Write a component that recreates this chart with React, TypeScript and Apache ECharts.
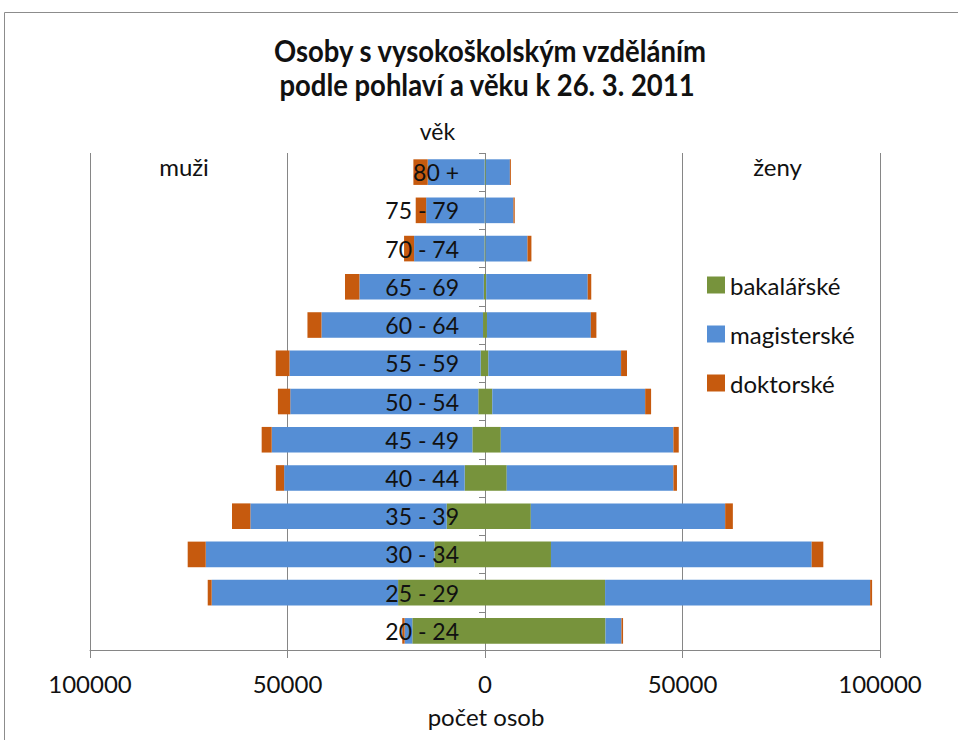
import React, { useEffect, useRef } from "react";
import * as echarts from "echarts";

const categories = ["20 - 24", "25 - 29", "30 - 34", "35 - 39", "40 - 44", "45 - 49", "50 - 54", "55 - 59", "60 - 64", "65 - 69", "70 - 74", "75 - 79", "80 +"];

const menBachelor = [18400, 22000, 12800, 9700, 5150, 3200, 1700, 1100, 500, 300, 150, 100, 100];
const menMaster = [1950, 47200, 57900, 49700, 45700, 50800, 47600, 48400, 40900, 31500, 17800, 14800, 14400];
const menDoctoral = [600, 1000, 4570, 4650, 2100, 2540, 3130, 3480, 3550, 3650, 2540, 2640, 3630];

const womenBachelor = [30500, 30400, 16700, 11600, 5500, 4000, 1850, 850, 500, 300, 150, 100, 200];
const womenMaster = [4050, 67100, 66000, 49200, 42200, 43700, 38700, 33600, 26300, 25700, 10600, 7100, 6100];
const womenDoctoral = [400, 500, 2950, 1950, 900, 1350, 1500, 1500, 1400, 900, 1000, 330, 250];

const xTicks = { min: -100000, max: 100000, interval: 50000 };

const seriesNames = ["bakalářské", "magisterské", "doktorské"];
const colors = ["#77933C", "#558ED5", "#C65A0E"];

const FONT = "Lato";

const GRID_LEFT = 90;
const GRID_RIGHT = 78;
const CHART_W = 958;

export default function App() {
  const ref = useRef<HTMLDivElement>(null);
  useEffect(() => {
    if (!ref.current) return;
    const chart = echarts.init(ref.current, undefined, { renderer: "svg" });
    const mk = (name: string, data: number[], color: string, sign: number) => ({
      name,
      type: "bar",
      stack: "all",
      data: data.map((v) => sign * v),
      barCategoryGap: "33%",
      itemStyle: { color },
    });
    // place the category axis at the zero of the value axis (middle of the grid)
    const zeroOffset = -((CHART_W - GRID_LEFT - GRID_RIGHT) / 2);
    const option: any = {
      animation: false,
      textStyle: { fontFamily: FONT },
      grid: { left: GRID_LEFT, right: GRID_RIGHT, top: 153, bottom: 90, outerBoundsMode: "none", containLabel: false },
      legend: {
        data: seriesNames,
        orient: "vertical",
        left: 702,
        top: 268,
        icon: "rect",
        itemWidth: 18,
        itemHeight: 17,
        itemGap: 25,
        textStyle: { fontSize: 24, color: "#111", fontFamily: FONT },
      },
      xAxis: {
        type: "value",
        min: xTicks.min,
        max: xTicks.max,
        interval: xTicks.interval,
        axisLine: { show: true, lineStyle: { color: "#868686" } },
        axisTick: { show: true, length: 8, lineStyle: { color: "#868686" } },
        splitLine: { show: true, lineStyle: { color: "#868686", width: 1 } },
        axisLabel: {
          formatter: (v: number) => String(Math.abs(v)),
          fontSize: 24,
          color: "#111",
          margin: 21,
          fontFamily: FONT,
        },
      },
      yAxis: {
        type: "category",
        data: categories,
        position: "left",
        offset: zeroOffset,
        z: 10,
        axisLine: { show: true, onZero: false, lineStyle: { color: "#868686", opacity: 0 } },
        axisTick: { show: true, length: 6, lineStyle: { color: "#868686" } },
        axisLabel: { fontSize: 23, color: "#111", margin: 26, fontFamily: FONT },
        splitLine: { show: false },
      },
      series: [
        mk(seriesNames[0], menBachelor, colors[0], -1),
        mk(seriesNames[1], menMaster, colors[1], -1),
        mk(seriesNames[2], menDoctoral, colors[2], -1),
        mk(seriesNames[0], womenBachelor, colors[0], 1),
        mk(seriesNames[1], womenMaster, colors[1], 1),
        mk(seriesNames[2], womenDoctoral, colors[2], 1),
      ],
      graphic: [
        {
          type: "rect",
          shape: { x: 4.5, y: 12.5, width: 1000, height: 800 },
          style: { fill: "none", stroke: "#8c8c8c", lineWidth: 1 },
        },
        {
          type: "text",
          x: 490,
          y: 50.5,
          scaleX: 0.915,
          style: { text: "Osoby s vysokoškolským vzděláním", font: `bold 30px ${FONT}`, fill: "#111", textAlign: "center", textVerticalAlign: "middle" },
        },
        {
          type: "text",
          x: 487,
          y: 85,
          scaleX: 0.915,
          style: { text: "podle pohlaví a věku k 26. 3. 2011", font: `bold 30px ${FONT}`, fill: "#111", textAlign: "center", textVerticalAlign: "middle" },
        },
        {
          type: "text",
          x: 437.5,
          y: 131,
          style: { text: "věk", font: `23px ${FONT}`, fill: "#111", textAlign: "center", textVerticalAlign: "middle" },
        },
        {
          type: "text",
          x: 184,
          y: 166,
          style: { text: "muži", font: `24px ${FONT}`, fill: "#111", textAlign: "center", textVerticalAlign: "middle" },
        },
        {
          type: "text",
          x: 777.5,
          y: 166,
          style: { text: "ženy", font: `24px ${FONT}`, fill: "#111", textAlign: "center", textVerticalAlign: "middle" },
        },
        {
          type: "text",
          x: 486,
          y: 716,
          style: { text: "počet osob", font: `24px ${FONT}`, fill: "#111", textAlign: "center", textVerticalAlign: "middle" },
        },
      ],
    };
    chart.setOption(option);
    return () => chart.dispose();
  }, []);
  return (
    <div
      ref={ref}
      style={{ position: "fixed", left: 0, top: 0, width: CHART_W, height: 740, background: "#fff" }}
    />
  );
}
